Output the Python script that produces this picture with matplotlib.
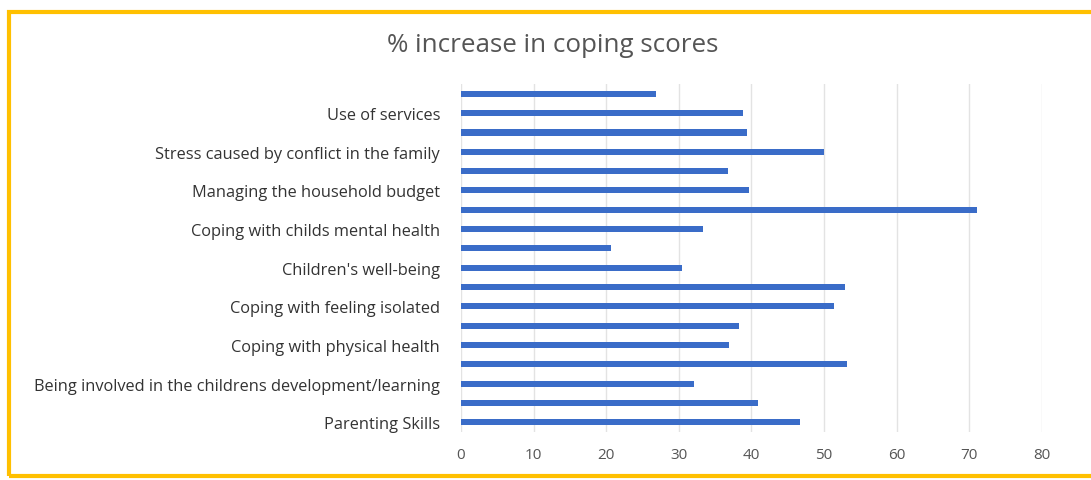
import matplotlib
matplotlib.use("Agg")
import matplotlib.pyplot as plt
from matplotlib.patches import Rectangle

# Data (top to bottom as shown)
categories = [
    "", "Use of services",
    "", "Stress caused by conflict in the family",
    "", "Managing the household budget",
    "", "Coping with childs mental health",
    "", "Children's well-being",
    "", "Coping with feeling isolated",
    "", "Coping with physical health",
    "", "Being involved in the childrens development/learning",
    "", "Parenting Skills",
]
values = [26.9, 38.8, 39.4, 50.0, 36.8, 39.7, 71.1, 33.3, 20.7,
          30.4, 52.9, 51.4, 38.3, 36.9, 53.2, 32.1, 40.9, 46.7]
x_ticks = [0, 10, 20, 30, 40, 50, 60, 70, 80]

plt.rcParams['font.family'] = ['Open Sans', 'DejaVu Sans']

fig = plt.figure(figsize=(10.91, 4.81), dpi=100)
ax = fig.add_axes([0.4225, 0.100, 0.5325, 0.723])

n = len(values)
ypos = list(range(n))[::-1]
ax.barh(ypos, values, height=0.32, color="#3A6CC8", zorder=3)

ax.set_xlim(0, 80)
ax.set_ylim(-0.5, n - 0.5)
ax.set_xticks(x_ticks)
ax.set_xticklabels([str(t) for t in x_ticks], fontsize=11, color="#555555")
ax.set_yticks(ypos)
ax.set_yticklabels(categories, fontsize=11.8, color="#333333")
ax.tick_params(axis='both', length=0)
ax.tick_params(axis='y', pad=15)
ax.tick_params(axis='x', pad=11)
ax.grid(axis='x', color="#e3e3e3", linewidth=1, zorder=0)
for s in ax.spines.values():
    s.set_visible(False)

fig.text(0.5067, 0.905, "% increase in coping scores", ha="center", va="center",
         fontsize=18.7, color="#555555")

border = Rectangle((0.008, 0.008), 1.05, 0.965, transform=fig.transFigure,
                   fill=False, edgecolor="#FFC000", linewidth=3, clip_on=False)
fig.patches.append(border)

fig.savefig("out.png", dpi=100, facecolor="white")
